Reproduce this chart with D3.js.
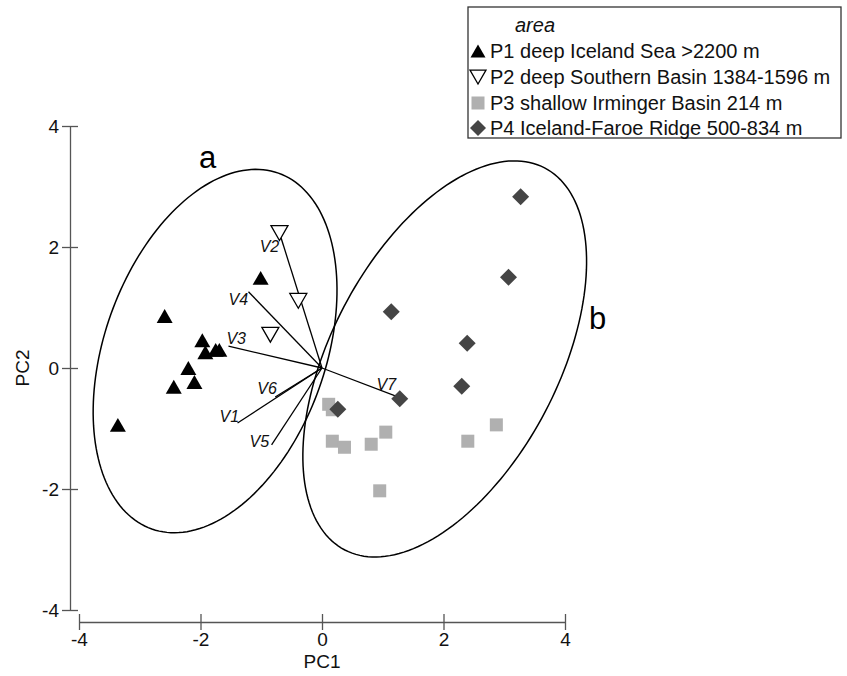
<!DOCTYPE html>
<html>
<head>
<meta charset="utf-8">
<script src="https://cdn.jsdelivr.net/npm/d3@7"></script>
<style>
  body { margin: 0; background: #fff; }
  svg { display: block; font-family: "Liberation Sans", Arial, sans-serif; }
</style>
</head>
<body>
<svg id="chart" width="847" height="676"></svg>
<script>
// ---- Data ----
const areaNames = [
  "P1 deep Iceland Sea >2200 m",
  "P2 deep Southern Basin 1384-1596 m",
  "P3 shallow Irminger Basin 214 m",
  "P4 Iceland-Faroe Ridge 500-834 m"
];
const p1 = [[-2.59,0.86],[-1.97,0.46],[-1.92,0.26],[-1.75,0.30],[-1.69,0.30],[-2.20,0.00],[-2.10,-0.23],[-2.44,-0.31],[-3.36,-0.94],[-1.01,1.49]];
const p2 = [[-0.70,2.23],[-0.39,1.11],[-0.85,0.55]];
const p3 = [[0.11,-0.60],[0.17,-0.69],[0.17,-1.21],[0.37,-1.31],[0.81,-1.26],[1.05,-1.06],[2.40,-1.21],[2.87,-0.94],[0.95,-2.03]];
const p4 = [[3.27,2.83],[3.07,1.50],[1.14,0.93],[2.39,0.41],[2.30,-0.30],[1.28,-0.51],[0.26,-0.68]];
const vectorNames = ["V1","V2","V3","V4","V5","V6","V7"];
const vectorLoadings = [[-1.39,-0.91],[-0.68,2.17],[-1.54,0.36],[-1.21,1.26],[-0.83,-1.27],[-0.77,-0.48],[1.26,-0.48]];
// ellipses: [centerX, centerY, semiMajor, semiMinor, tilt (deg from vertical)]
const ellipseNames = ["a","b"];
const ellipseParams = [[-1.76,0.28,3.12,1.82,19.5],[2.02,0.15,3.56,1.87,27.5]];
const xTicks = [-4,-2,0,2,4];
const yTicks = [-4,-2,0,2,4];

// ---- Layout ----
const svg = d3.select("#chart");
const x = d3.scaleLinear().domain([-4,4]).range([79,565]);
const y = d3.scaleLinear().domain([-4,4]).range([610,126]);
const axisColor = "#555";

// Axes
const gx = svg.append("g").attr("transform","translate(0,622)")
  .call(d3.axisBottom(x).tickValues(xTicks).tickSize(8).tickSizeOuter(0).tickFormat(d3.format("d")));
gx.selectAll(".tick line").attr("y1",-8);
const gy = svg.append("g").attr("transform","translate(70,0)")
  .call(d3.axisLeft(y).tickValues(yTicks).tickSize(8).tickSizeOuter(0).tickFormat(d3.format("d")));
gy.selectAll(".tick line").attr("x1",8);
[gx,gy].forEach(g=>{
  g.select(".domain").attr("stroke",axisColor).attr("stroke-width",1.3);
  g.selectAll(".tick line").attr("stroke",axisColor).attr("stroke-width",1.3);
  g.selectAll(".tick text").attr("font-size",19).attr("fill","#111")
   .attr("font-family","'Liberation Sans', Arial, sans-serif");
});
gx.selectAll(".tick text").text(d=>d<0?"-"+Math.abs(d):d);
gy.selectAll(".tick text").text(d=>d<0?"-"+Math.abs(d):d);

svg.append("text").attr("x",x(0)).attr("y",668).attr("text-anchor","middle")
  .attr("font-size",19).attr("fill","#111").text("PC1");
svg.append("text").attr("transform",`translate(29,${y(0)}) rotate(-90)`)
  .attr("text-anchor","middle").attr("font-size",19).attr("fill","#111").text("PC2");

// Ellipses
const lineGen = d3.line().x(d=>x(d[0])).y(d=>y(d[1])).curve(d3.curveLinearClosed);
ellipseParams.forEach(p=>{
  const [cx,cy,A,B,tilt] = p;
  const phi = tilt*Math.PI/180;
  const u=[Math.sin(phi),Math.cos(phi)], v=[Math.cos(phi),-Math.sin(phi)];
  const pts = d3.range(0,360,2).map(t=>{
    const r=t*Math.PI/180;
    return [cx+A*Math.cos(r)*u[0]+B*Math.sin(r)*v[0], cy+A*Math.cos(r)*u[1]+B*Math.sin(r)*v[1]];
  });
  svg.append("path").attr("d",lineGen(pts)).attr("fill","none").attr("stroke","#000").attr("stroke-width",1.5);
});
// ellipse letters
const letterPos = [[199,168],[589,329]];
ellipseNames.forEach((n,i)=>{
  svg.append("text").attr("x",letterPos[i][0]).attr("y",letterPos[i][1])
    .attr("font-size",31).attr("fill","#000").text(n);
});

// Vectors
const labelOffsets = [[-18,-1],[-21,15],[-2,-2],[-20,13],[-22,2],[-18,-3],[-22,-7]];
vectorLoadings.forEach((d,i)=>{
  svg.append("line").attr("x1",x(0)).attr("y1",y(0)).attr("x2",x(d[0])).attr("y2",y(d[1]))
    .attr("stroke","#000").attr("stroke-width",1.3);
  svg.append("text").attr("x",x(d[0])+labelOffsets[i][0]).attr("y",y(d[1])+labelOffsets[i][1])
    .attr("font-size",16).attr("font-style","italic").attr("fill","#111").text(vectorNames[i]);
});

// Symbols
function upTri(g, px, py, s){
  const h = s*0.87;
  return g.append("path").attr("d",`M${px},${py-h/2}L${px+s/2},${py+h/2}L${px-s/2},${py+h/2}Z`);
}
function downTri(g, px, py, s){
  const h = s*0.87;
  return g.append("path").attr("d",`M${px-s/2},${py-h/2}L${px+s/2},${py-h/2}L${px},${py+h/2}Z`);
}
function square(g, px, py, s){
  return g.append("rect").attr("x",px-s/2).attr("y",py-s/2).attr("width",s).attr("height",s);
}
function diamond(g, px, py, s){
  const r=s/2;
  return g.append("path").attr("d",`M${px},${py-r}L${px+r},${py}L${px},${py+r}L${px-r},${py}Z`);
}
const pg = svg.append("g");
p3.forEach(d=>square(pg,x(d[0]),y(d[1]),13).attr("fill","#b0b0b0"));
p4.forEach(d=>diamond(pg,x(d[0]),y(d[1]),17).attr("fill","#454545"));
p2.forEach(d=>downTri(pg,x(d[0]),y(d[1]),17).attr("fill","#fff").attr("stroke","#000").attr("stroke-width",1.3));
p1.forEach(d=>upTri(pg,x(d[0]),y(d[1]),16).attr("fill","#000"));

// Legend
const lg = svg.append("g");
lg.append("rect").attr("x",468).attr("y",7).attr("width",373).attr("height",131)
  .attr("fill","#fff").attr("stroke","#333").attr("stroke-width",1.3);
lg.append("text").attr("x",515).attr("y",32).attr("font-size",20).attr("font-style","italic").attr("fill","#111").text("area");
const rowBase = [58,84,110,135];
const symFns = [
  (g,px,py)=>upTri(g,px,py,15).attr("fill","#000"),
  (g,px,py)=>downTri(g,px,py,16).attr("fill","#fff").attr("stroke","#000").attr("stroke-width",1.3),
  (g,px,py)=>square(g,px,py,13).attr("fill","#b0b0b0"),
  (g,px,py)=>diamond(g,px,py,16).attr("fill","#454545")
];
areaNames.forEach((n,i)=>{
  symFns[i](lg,478,rowBase[i]-7);
  lg.append("text").attr("x",490).attr("y",rowBase[i]).attr("font-size",20).attr("fill","#111").text(n);
});
</script>
</body>
</html>
